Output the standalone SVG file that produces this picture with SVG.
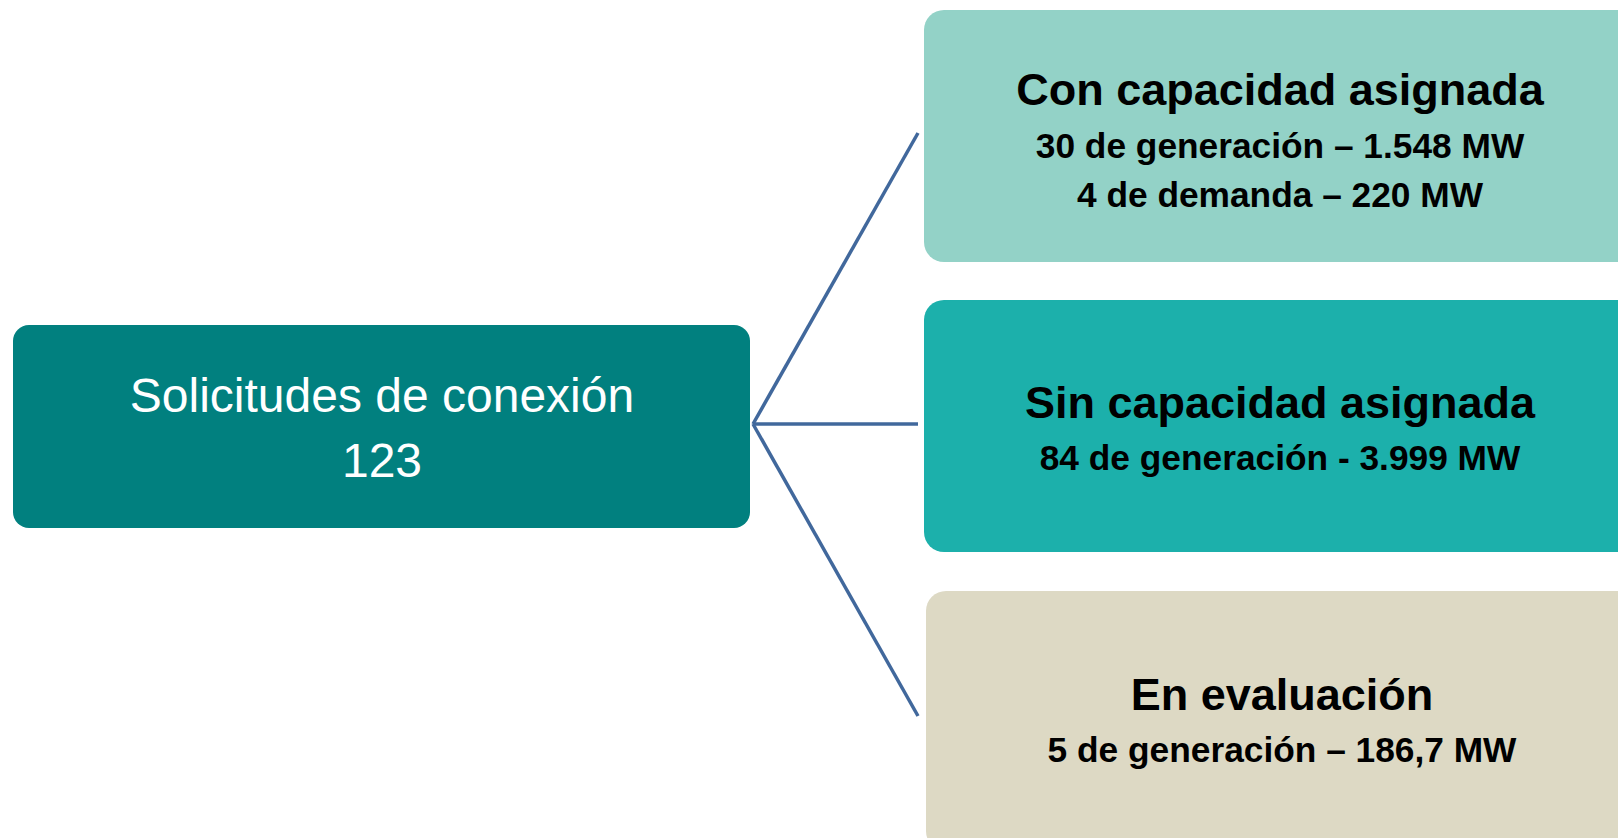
<svg xmlns="http://www.w3.org/2000/svg" width="1618" height="838" viewBox="0 0 1618 838">
<style>
.t{font-family:"Liberation Sans",Arial,sans-serif;text-anchor:middle}
.w{fill:#ffffff;font-size:48px}
.h{fill:#000000;font-size:45px;font-weight:bold}
.s{fill:#000000;font-size:35.3px;font-weight:bold}
.c{stroke:#41689C;stroke-width:3.5;fill:none}
</style>
<rect width="1618" height="838" fill="#ffffff"/>
<g id="connectors">
<line class="c" x1="753" y1="424" x2="918" y2="133"/>
<line class="c" x1="753" y1="424" x2="918" y2="424"/>
<line class="c" x1="753" y1="424" x2="918" y2="716"/>
</g>
<g id="root">
<rect x="13" y="325" width="737" height="203" rx="16" fill="#01807F"/>
<text class="t w" x="382" y="412">Solicitudes de conexión</text>
<text class="t w" x="382" y="477">123</text>
</g>
<g id="con-capacidad">
<rect x="924" y="10" width="712" height="252" rx="20" fill="#93D2C7"/>
<text class="t h" x="1280" y="105">Con capacidad asignada</text>
<text class="t s" x="1280" y="158">30 de generación – 1.548 MW</text>
<text class="t s" x="1280" y="207">4 de demanda – 220 MW</text>
</g>
<g id="sin-capacidad">
<rect x="924" y="300" width="712" height="252" rx="20" fill="#1CB0AB"/>
<text class="t h" x="1280" y="418">Sin capacidad asignada</text>
<text class="t s" x="1280" y="470">84 de generación - 3.999 MW</text>
</g>
<g id="en-evaluacion">
<rect x="926" y="591" width="712" height="260" rx="20" fill="#DDD9C4"/>
<text class="t h" x="1282" y="710">En evaluación</text>
<text class="t s" x="1282" y="762">5 de generación – 186,7 MW</text>
</g>
</svg>
